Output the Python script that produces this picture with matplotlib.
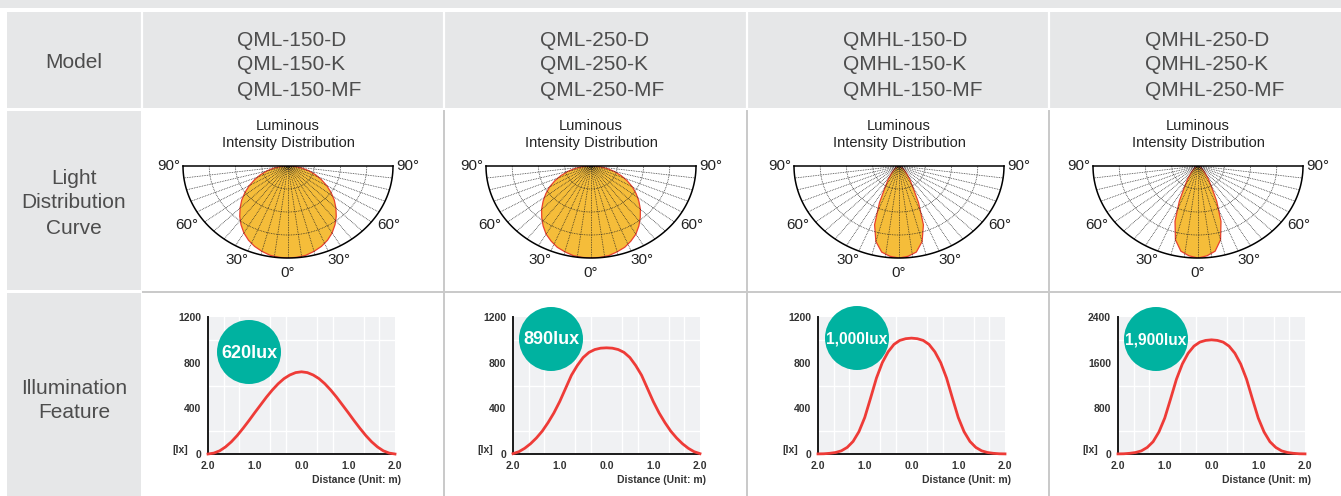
import numpy as np
import matplotlib
matplotlib.use("Agg")
import matplotlib.pyplot as plt
from matplotlib.patches import Rectangle, Circle

plt.rcParams['font.family'] = ['Liberation Sans', 'DejaVu Sans']

# --------------------
# data
# --------------------

models = [
    ["QML-150-D", "QML-150-K", "QML-150-MF"],
    ["QML-250-D", "QML-250-K", "QML-250-MF"],
    ["QMHL-150-D", "QMHL-150-K", "QMHL-150-MF"],
    ["QMHL-250-D", "QMHL-250-K", "QMHL-250-MF"],
]
row_titles = [["Model"], ["Light", "Distribution", "Curve"], ["Illumination", "Feature"]]

# luminous intensity (relative) at 0..90 deg, step 5
angles = [0, 5, 10, 15, 20, 25, 30, 35, 40, 45, 50, 55, 60, 65, 70, 75, 80, 85, 90]
intensity = [
    [1.0, 0.996, 0.985, 0.96, 0.93, 0.89, 0.84, 0.78, 0.715, 0.645, 0.575, 0.50, 0.425, 0.35, 0.28, 0.21, 0.14, 0.07, 0.0],
    [1.0, 0.997, 0.988, 0.965, 0.94, 0.90, 0.855, 0.795, 0.73, 0.665, 0.595, 0.525, 0.455, 0.38, 0.305, 0.23, 0.155, 0.078, 0.0],
    [1.0, 0.985, 0.95, 0.85, 0.68, 0.44, 0.26, 0.18, 0.12, 0.085, 0.06, 0.045, 0.03, 0.022, 0.015, 0.01, 0.005, 0.002, 0.0],
    [1.0, 0.98, 0.94, 0.83, 0.64, 0.42, 0.25, 0.17, 0.11, 0.08, 0.055, 0.04, 0.028, 0.02, 0.014, 0.009, 0.005, 0.002, 0.0],
]
grid_step = 7.5
deg_labels = ["90°", "60°", "30°", "0°"]

# illuminance vs distance
dist = [-2.0, -1.875, -1.75, -1.625, -1.5, -1.375, -1.25, -1.125, -1.0, -0.875, -0.75, -0.625, -0.5,
        -0.375, -0.25, -0.125, 0.0, 0.125, 0.25, 0.375, 0.5, 0.625, 0.75, 0.875, 1.0, 1.125, 1.25,
        1.375, 1.5, 1.625, 1.75, 1.875, 2.0]
lux = [
    [0, 8, 28, 62, 107, 162, 225, 292, 362, 430, 498, 560, 615, 660, 692, 713, 720,
     713, 692, 660, 615, 560, 498, 430, 362, 292, 225, 162, 107, 62, 28, 8, 0],
    [3, 20, 50, 90, 140, 200, 275, 360, 460, 575, 690, 775, 845, 890, 915, 927, 930,
     927, 915, 890, 845, 775, 690, 575, 460, 360, 275, 200, 140, 90, 50, 20, 3],
    [1, 2, 6, 13, 28, 58, 110, 195, 320, 490, 665, 800, 895, 960, 995, 1010, 1015,
     1010, 995, 960, 895, 800, 665, 490, 320, 195, 110, 58, 28, 13, 6, 2, 1],
    [2, 4, 12, 26, 55, 115, 215, 385, 630, 965, 1310, 1575, 1765, 1890, 1960, 1990, 2000,
     1990, 1960, 1890, 1765, 1575, 1310, 965, 630, 385, 215, 115, 55, 26, 12, 4, 2],
]
ymax = [1200, 1200, 1200, 2400]
badges = ["620lux", "890lux", "1,000lux", "1,900lux"]
badge_size = [13, 13, 11.2, 11.2]
xtick_vals = [-2, -1, 0, 1, 2]
xtick_labels = ["2.0", "1.0", "0.0", "1.0", "2.0"]

# --------------------
# layout (pixels)
# --------------------

W, H = 1341, 496
GRAY = "#e6e7e8"
TXT = "#4d4d4d"
LINE = "#c9c9c9"

fig = plt.figure(figsize=(W / 100, H / 100), dpi=100)

bg = fig.add_axes([0, 0, 1, 1])
bg.set_xlim(0, W)
bg.set_ylim(H, 0)
bg.axis("off")

# table backgrounds
bg.add_patch(Rectangle((0, 0), W, 8, color=GRAY, lw=0))
bg.add_patch(Rectangle((7, 12), W - 7, 96, color=GRAY, lw=0))
bg.add_patch(Rectangle((7, 111), 134, 179, color=GRAY, lw=0))
bg.add_patch(Rectangle((7, 293), 134, 203, color=GRAY, lw=0))

col_sep = [444, 747, 1049.5]
for x in [142] + col_sep:
    bg.plot([x, x], [12, 108], color="white", lw=1.6)
for x in col_sep:
    bg.plot([x, x], [111, H], color=LINE, lw=1.4)
bg.plot([143, W], [292, 292], color=LINE, lw=1.4)

# row titles
bg.text(74, 63, row_titles[0][0], fontsize=15, color=TXT, ha="center", va="center")
for k, s in enumerate(row_titles[1]):
    bg.text(74, 178 + 25 * k, s, fontsize=15, color=TXT, ha="center", va="center")
for k, s in enumerate(row_titles[2]):
    bg.text(74, 388 + 25 * k, s, fontsize=15, color=TXT, ha="center", va="center")

# model names
model_x = [237, 540, 843, 1145]
for i in range(4):
    for k, s in enumerate(models[i]):
        bg.text(model_x[i], 40 + 25 * k, s, fontsize=15, color=TXT, ha="left", va="center")

# --------------------
# light distribution curves
# --------------------

polar_cx = [288, 591, 899, 1198]
top_y = 166
rx, ry = 105, 92
dot = (0, (1, 1.2))

for i in range(4):
    cx = polar_cx[i]
    pa = fig.add_axes([(cx - rx) / W, 1 - (top_y + ry) / H, 2 * rx / W, ry / H])
    pa.set_xlim(-1, 1)
    pa.set_ylim(-1, 0)
    pa.axis("off")

    th = np.radians(np.array(angles))
    r = np.array(intensity[i])
    th_all = np.concatenate([-th[::-1], th[1:]])
    r_all = np.concatenate([r[::-1], r[1:]])
    pa.fill(r_all * np.sin(th_all), -r_all * np.cos(th_all),
            facecolor="#f5bd3a", edgecolor="#e8412e", lw=0.9, zorder=1)

    for a in np.arange(-90 + grid_step, 90, grid_step):
        t = np.radians(a)
        pa.plot([0, np.sin(t)], [0, -np.cos(t)], color="#222222", lw=0.55,
                linestyle=dot, zorder=2)
    arc = np.linspace(-np.pi / 2, np.pi / 2, 120)
    for rr in (0.25, 0.5, 0.75):
        pa.plot(rr * np.sin(arc), -rr * np.cos(arc), color="#222222", lw=0.55,
                linestyle=dot, zorder=2)
    pa.plot(np.sin(arc), -np.cos(arc), color="black", lw=1.1, zorder=3, clip_on=False)
    pa.plot([-1, 1], [0, 0], color="black", lw=1.1, zorder=3, clip_on=False)

    bg.text(cx, 126, "Luminous", fontsize=10.5, color="#222222", ha="center", va="center")
    bg.text(cx, 143, "Intensity Distribution", fontsize=10.5, color="#222222",
            ha="center", va="center")

    bg.text(cx - rx - 3, top_y, deg_labels[0], fontsize=11, color="#222222", ha="right", va="center")
    bg.text(cx + rx + 3, top_y, deg_labels[0], fontsize=11, color="#222222", ha="left", va="center")
    for sgn in (-1, 1):
        bg.text(cx + sgn * 101, top_y + 59, deg_labels[1], fontsize=11, color="#222222",
                ha="center", va="center")
        bg.text(cx + sgn * 51, top_y + 94, deg_labels[2], fontsize=11, color="#222222",
                ha="center", va="center")
    bg.text(cx, top_y + 107, deg_labels[3], fontsize=11, color="#222222", ha="center", va="center")

# --------------------
# illumination feature
# --------------------

ax_left = [208, 513, 818, 1118]
ax_w = 187
ax_top, ax_bot = 317, 454
badge_xy = [(249, 352), (551, 339), (857, 338), (1156, 339)]

ov = fig.add_axes([0, 0, 1, 1], zorder=10)
ov.set_xlim(0, W)
ov.set_ylim(H, 0)
ov.axis("off")

for i in range(4):
    x0 = ax_left[i]
    ax = fig.add_axes([x0 / W, 1 - ax_bot / H, ax_w / W, (ax_bot - ax_top) / H])
    ax.set_facecolor("#f0f1f3")
    ax.plot(dist, lux[i], color="#ee3b37", lw=2.0, zorder=3, clip_on=False,
            solid_joinstyle="round")
    ax.set_xlim(-2, 2)
    ax.set_ylim(0, ymax[i])

    ax.set_xticks(xtick_vals)
    ax.set_xticklabels(xtick_labels)
    ax.set_xticks(np.linspace(-2, 2, 13), minor=True)
    yt = [0, ymax[i] / 3, 2 * ymax[i] / 3, ymax[i]]
    ax.set_yticks(yt)
    ax.set_yticklabels([str(int(v)) for v in yt])
    ax.set_yticks(np.linspace(0, ymax[i], 7), minor=True)
    ax.set_xticklabels([], minor=True)
    ax.set_yticklabels([], minor=True)

    ax.grid(which="minor", color="white", lw=1.0)
    ax.set_axisbelow(True)
    ax.tick_params(which="both", length=0, labelsize=7.5, labelcolor="#333333")
    ax.tick_params(axis="x", pad=5)
    ax.tick_params(axis="y", pad=5)
    for lab in ax.get_xticklabels() + ax.get_yticklabels():
        lab.set_fontweight("bold")
    for s in ("top", "right"):
        ax.spines[s].set_visible(False)
    for s in ("left", "bottom"):
        ax.spines[s].set_color("#1a1a1a")
        ax.spines[s].set_linewidth(1.4)

    ov.text(x0 - 36, 450, "[lx]", fontsize=7.5, fontweight="bold", color="#333333",
            ha="left", va="center")
    ov.text(x0 + ax_w + 6, 480, "Distance (Unit: m)", fontsize=7.5, fontweight="bold",
            color="#333333", ha="right", va="center")

    bx, by = badge_xy[i]
    ov.add_patch(Circle((bx, by), 32, color="#00b2a0", lw=0, zorder=5))
    ov.text(bx, by + 1, badges[i], fontsize=badge_size[i], fontweight="bold", color="white",
            ha="center", va="center", zorder=6)

fig.savefig("out.png", dpi=100)
